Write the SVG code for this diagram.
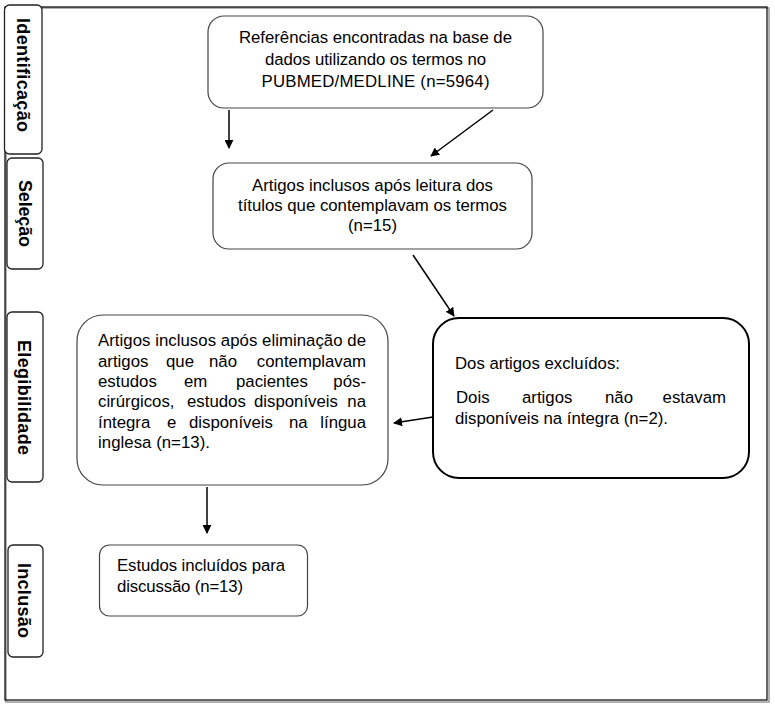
<svg xmlns="http://www.w3.org/2000/svg" width="775" height="705" viewBox="0 0 775 705">
<style>
text{font-family:"Liberation Sans",Arial,sans-serif;font-size:16.8px;fill:#000}
.tab{fill:#fff;stroke:#222;stroke-width:1.3}
.tabt{font-weight:bold;font-size:18px;text-anchor:middle}
.box{fill:#fff;stroke:#444;stroke-width:1.2}
.boxd{fill:#fff;stroke:#000;stroke-width:2}
.c{text-anchor:middle}
.e{text-anchor:end}
.conn line{stroke:#000;stroke-width:1.5;marker-end:url(#ah)}
</style>
<defs>
<marker id="ah" viewBox="0 0 10 10" refX="9" refY="5" markerWidth="6" markerHeight="6" orient="auto" markerUnits="strokeWidth">
<path d="M0,0 L10,5 L0,10 z" fill="#000"/>
</marker>
</defs>
<rect width="775" height="705" fill="#fff"/>
<g id="frame">
<rect x="6" y="8" width="763" height="694" fill="none" stroke="#999" stroke-width="1.5"/>
<rect x="5" y="7" width="762" height="693" fill="none" stroke="#000" stroke-width="1.2"/>
</g>
<g id="tab-identificacao">
<rect class="tab" x="4.5" y="5" width="37.5" height="149" rx="5"/>
<text class="tabt" transform="translate(17,75) rotate(90)" textLength="114">Identificação</text>
</g>
<g id="tab-selecao">
<rect class="tab" x="7" y="158" width="36" height="111" rx="5"/>
<text class="tabt" transform="translate(19,213.5) rotate(90)" textLength="67">Seleção</text>
</g>
<g id="tab-elegibilidade">
<rect class="tab" x="7" y="312" width="36" height="170" rx="5"/>
<text class="tabt" transform="translate(18,397.5) rotate(90)" textLength="115">Elegibilidade</text>
</g>
<g id="tab-inclusao">
<rect class="tab" x="8" y="545" width="35" height="112" rx="5"/>
<text class="tabt" transform="translate(18,600.5) rotate(90)" textLength="75">Inclusão</text>
</g>
<g id="box-referencias">
<rect class="box" x="208" y="16" width="335" height="92" rx="16"/>
<text class="c" x="375.5" y="43" textLength="273">Referências encontradas na base de</text>
<text class="c" x="375.5" y="65" textLength="221">dados utilizando os termos no</text>
<text class="c" x="375.5" y="87" textLength="228">PUBMED/MEDLINE (n=5964)</text>
</g>
<g id="box-selecao">
<rect class="box" x="213" y="163" width="319" height="86" rx="16"/>
<text class="c" x="372.5" y="191" textLength="241">Artigos inclusos após leitura dos</text>
<text class="c" x="372.5" y="211" textLength="269">títulos que contemplavam os termos</text>
<text class="c" x="372.5" y="231" textLength="49">(n=15)</text>
</g>
<g id="box-elegibilidade">
<rect class="box" x="77" y="315" width="311" height="170" rx="26"/>
<text x="98" y="346" textLength="268">Artigos inclusos após eliminação de</text>
<text y="366.5"><tspan x="98">artigos</tspan><tspan x="166">que</tspan><tspan x="209">não</tspan></text>
<text class="e" x="366" y="366.5">contemplavam</text>
<text y="387"><tspan x="98">estudos</tspan><tspan x="184">em</tspan><tspan x="236">pacientes</tspan></text>
<text class="e" x="366" y="387">pós-</text>
<text y="407"><tspan x="98">cirúrgicos,</tspan><tspan x="187">estudos</tspan><tspan x="254">disponíveis</tspan></text>
<text class="e" x="366" y="407">na</text>
<text y="427.5"><tspan x="98">íntegra</tspan><tspan x="167">e</tspan><tspan x="189">disponíveis</tspan><tspan x="289">na</tspan></text>
<text class="e" x="366" y="427.5">língua</text>
<text x="98" y="448" textLength="112">inglesa (n=13).</text>
</g>
<g id="box-excluidos">
<rect class="boxd" x="433" y="318" width="316" height="160" rx="26"/>
<text x="455" y="369" textLength="165">Dos artigos excluídos:</text>
<text y="403"><tspan x="456">Dois</tspan><tspan x="522">artigos</tspan><tspan x="605">não</tspan></text>
<text class="e" x="726" y="403">estavam</text>
<text x="455" y="424" textLength="213">disponíveis na íntegra (n=2).</text>
</g>
<g id="box-inclusao">
<rect class="box" x="99.5" y="545" width="208" height="71" rx="10"/>
<text x="117" y="571" textLength="168">Estudos incluídos para</text>
<text x="117" y="592" textLength="126">discussão (n=13)</text>
</g>
<g id="connectors" class="conn">
<line x1="229" y1="110" x2="229" y2="148"/>
<line x1="493" y1="110" x2="431" y2="156"/>
<line x1="413" y1="255" x2="454" y2="316"/>
<line x1="433" y1="417" x2="394" y2="423"/>
<line x1="207" y1="487" x2="207" y2="533"/>
</g>
</svg>
